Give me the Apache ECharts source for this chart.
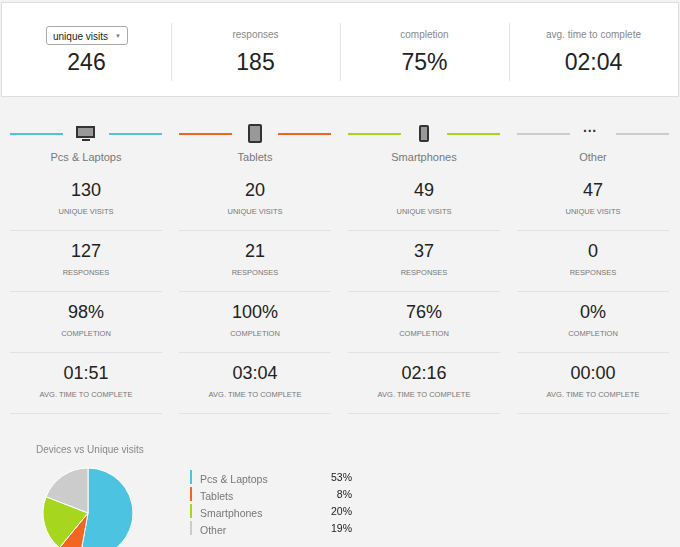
<!DOCTYPE html>
<html><head><meta charset="utf-8">
<script src="https://cdn.jsdelivr.net/npm/echarts@6/dist/echarts.min.js"></script>
<style>
body{margin:0;width:680px;height:547px;background:#f3f3f3;font-family:"Liberation Sans",Arial,sans-serif;position:relative;overflow:hidden}
.top{position:absolute;left:1px;top:2px;width:676px;height:93px;background:#fff;border:1px solid #ddd}
.tc{position:absolute;top:0;width:169px;text-align:center}
.tc .l{position:absolute;top:26px;width:100%;font-size:10px;color:#888}
.tc .v{position:absolute;top:46px;width:100%;font-size:23px;color:#222}
.vd{position:absolute;top:20px;height:58px;border-left:1px solid #e3e3e3}
.sel{position:absolute;left:44px;top:23px;width:82px;height:19px;border:1px solid #aaa;border-radius:3px;font-size:10px;line-height:19px;color:#222;text-align:left;padding-left:6px;box-sizing:border-box}
.sel:after{content:"▼";position:absolute;right:6px;font-size:6px;color:#777}
.dc{position:absolute;width:152px;text-align:center}
.ln{position:absolute;top:133px;height:2px;width:53px}
.name{position:absolute;top:151px;width:100%;font-size:11px;color:#777}
.num{position:absolute;width:100%;font-size:18px;color:#222}
.lab{position:absolute;width:100%;font-size:7.5px;color:#777}
.hr{position:absolute;width:100%;height:1px;background:#e2e2e2}
.leg{position:absolute;font-size:10.5px;color:#777}
</style></head><body>
<div class="top" id="top"></div>
<div id="dev"></div>
<div id="chart" style="position:absolute;left:0;top:430px;width:680px;height:117px"></div>
<div id="leg"></div>
<script>
var topLabels = ["unique visits", "responses", "completion", "avg. time to complete"];
var topValues = ["246", "185", "75%", "02:04"];
var devices = ["Pcs & Laptops", "Tablets", "Smartphones", "Other"];
var devColors = ["#4dc3e2", "#f26522", "#a6d61e", "#cccccc"];
var visits = [130, 20, 49, 47];
var responses = [127, 21, 37, 0];
var completion = ["98%", "100%", "76%", "0%"];
var avgTime = ["01:51", "03:04", "02:16", "00:00"];
var shares = ["53%", "8%", "20%", "19%"];

var t = document.getElementById("top"), h = "";
topLabels.forEach(function (l, i) {
  h += '<div class="tc" style="left:' + (i * 169) + 'px">' +
    (i == 0 ? '<div class="sel">' + l + '</div>' : '<div class="l">' + l + '</div>') +
    '<div class="v">' + topValues[i] + '</div></div>';
  if (i > 0) h += '<div class="vd" style="left:' + (i * 169) + 'px"></div>';
});
t.innerHTML = h;

var icons = [
  '<div style="position:absolute;left:66px;top:126px;width:19px;height:12px;background:#999;border:2px solid #333;box-sizing:border-box"></div><div style="position:absolute;left:72px;top:139px;width:8px;height:2px;background:#333"></div>',
  '<div style="position:absolute;left:69px;top:124px;width:14px;height:19px;background:#999;border:2px solid #333;border-radius:2px;box-sizing:border-box"></div>',
  '<div style="position:absolute;left:71px;top:125px;width:10px;height:17px;background:#999;border:2px solid #333;border-radius:2px;box-sizing:border-box"></div>',
  '<div style="position:absolute;left:66px;top:126px;font-size:14px;font-weight:bold;color:#333;line-height:10px">&middot;&middot;&middot;</div>'
];
var rows = [[visits, "UNIQUE VISITS"], [responses, "RESPONSES"], [completion, "COMPLETION"], [avgTime, "AVG. TIME TO COMPLETE"]];
var d = "";
devices.forEach(function (n, i) {
  var c = '<div class="dc" style="left:' + (10 + i * 169) + 'px;top:0;height:420px">';
  c += '<div class="ln" style="left:0;background:' + devColors[i] + '"></div>';
  c += '<div class="ln" style="left:99px;background:' + devColors[i] + '"></div>';
  c += icons[i] + '<div class="name">' + n + '</div>';
  rows.forEach(function (r, k) {
    var y = 180 + k * 61;
    c += '<div class="num" style="top:' + y + 'px">' + r[0][i] + '</div>';
    c += '<div class="lab" style="top:' + (y + 27) + 'px">' + r[1] + '</div>';
    c += '<div class="hr" style="top:' + (y + 50) + 'px"></div>';
  });
  d += c + '</div>';
});
document.getElementById("dev").innerHTML = d;

var lg = "";
devices.forEach(function (n, i) {
  var y = 470 + i * 17;
  lg += '<div style="position:absolute;left:190px;top:' + y + 'px;width:2px;height:14px;background:' + devColors[i] + '"></div>';
  lg += '<div class="leg" style="left:200px;top:' + (y + 3) + 'px">' + n + '</div>';
  lg += '<div class="leg" style="left:300px;top:' + (y + 1) + 'px;width:52px;text-align:right;color:#222">' + shares[i] + '</div>';
});
document.getElementById("leg").innerHTML = lg;

var chart = echarts.init(document.getElementById("chart"));
chart.setOption({
  animation: false,
  title: { text: "Devices vs Unique visits", left: 31, top: 10, textStyle: { fontSize: 10, fontWeight: "normal", color: "#888" } },
  series: [{
    type: "pie", center: [88, 83], radius: 45, startAngle: 90, clockwise: true,
    label: { show: false }, labelLine: { show: false },
    itemStyle: { borderColor: "#fff", borderWidth: 1 },
    data: devices.map(function (n, i) { return { name: n, value: visits[i], itemStyle: { color: devColors[i] } }; })
  }]
});
</script></body></html>
